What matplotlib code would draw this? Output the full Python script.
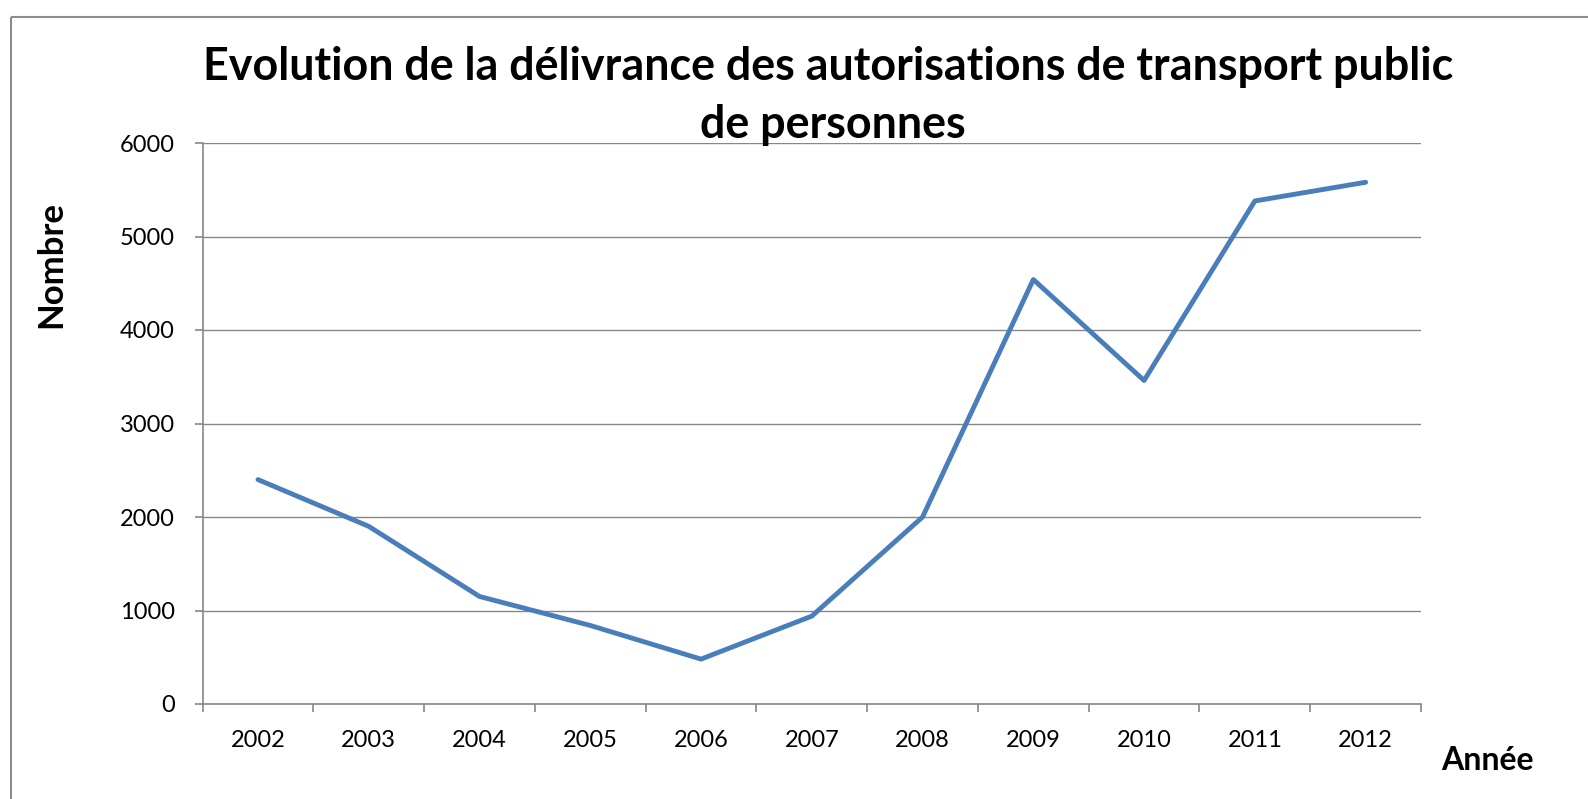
import matplotlib
matplotlib.use("Agg")
import matplotlib.pyplot as plt
from matplotlib.patches import Rectangle
from matplotlib.ticker import FixedLocator, NullFormatter, FixedFormatter

years = ["2002", "2003", "2004", "2005", "2006", "2007", "2008", "2009", "2010", "2011", "2012"]
values = [2400, 1900, 1150, 840, 480, 940, 2000, 4540, 3460, 5380, 5580]
yticks = [0, 1000, 2000, 3000, 4000, 5000, 6000]

title_line1 = "Evolution de la délivrance des autorisations de transport public"
title_line2 = "de personnes"
ylabel = "Nombre"
xlabel = "Année"

W, H = 1588, 799
fig = plt.figure(figsize=(W / 100, H / 100), dpi=100)
fig.patch.set_facecolor("white")
plt.rcParams["font.family"] = ["Lato", "DejaVu Sans"]

# outer frame (extends beyond right/bottom edges)
fig.patches.append(Rectangle((10.5 / W, 1 - 16.5 / H), 2.0, -2.0, transform=fig.transFigure,
                             fill=False, edgecolor="#8c8c8c", linewidth=1.5))

ax = fig.add_axes([202.6 / W, 1 - 704 / H, (1421 - 202.6) / W, (704 - 143) / H])
x = list(range(len(years)))
ax.plot(x, values, color="#4a7ebb", linewidth=3.5, solid_capstyle="round", solid_joinstyle="round", zorder=3)

ax.set_xlim(-0.5, len(years) - 0.5)
ax.set_ylim(0, 6000)
ax.set_yticks(yticks)
ax.set_yticklabels([str(v) for v in yticks])
ax.yaxis.grid(True, color="#878787", linewidth=1.0)
ax.set_axisbelow(True)

ax.xaxis.set_major_locator(FixedLocator([i - 0.5 for i in range(len(years) + 1)]))
ax.xaxis.set_major_formatter(NullFormatter())
ax.xaxis.set_minor_locator(FixedLocator(x))
ax.xaxis.set_minor_formatter(FixedFormatter(years))
ax.tick_params(axis="x", which="major", length=6, color="#878787", width=1.2, direction="out")
ax.tick_params(axis="x", which="minor", length=0, pad=19, labelsize=17)
ax.tick_params(axis="y", which="major", length=6, color="#878787", width=1.2, pad=14, labelsize=17)

for s in ["top", "right"]:
    ax.spines[s].set_visible(False)
for s in ["left", "bottom"]:
    ax.spines[s].set_color("#878787")
    ax.spines[s].set_linewidth(1.2)

fig.text(828 / W, 1 - 80 / H, title_line1, ha="center", va="baseline", fontsize=32.3, fontweight="bold")
fig.text(833 / W, 1 - 138 / H, title_line2, ha="center", va="baseline", fontsize=32.3, fontweight="bold")
fig.text(51 / W, 1 - 265 / H, ylabel, ha="center", va="center", rotation=90, fontsize=25, fontweight="bold")
fig.text(1487 / W, 1 - 770 / H, xlabel, ha="center", va="baseline", fontsize=23, fontweight="bold")

fig.savefig("out.png", dpi=100, facecolor="white")
